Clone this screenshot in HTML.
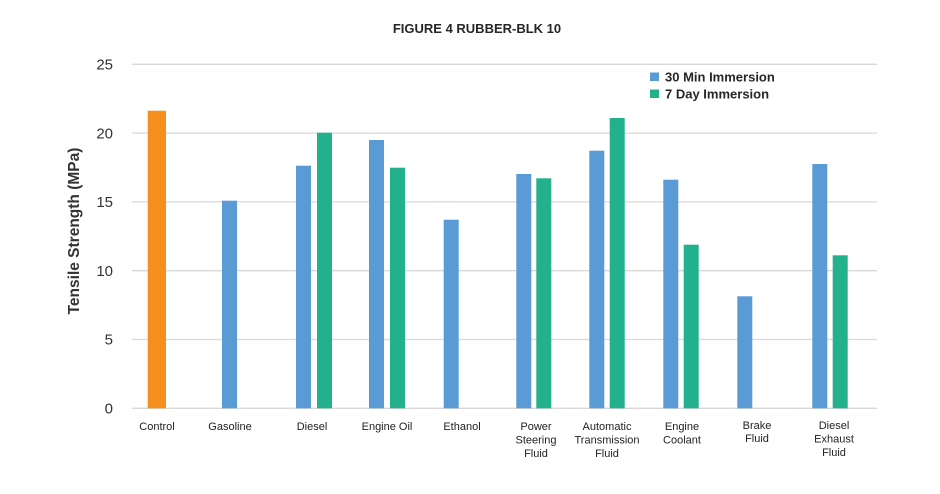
<!DOCTYPE html>
<html>
<head>
<meta charset="utf-8">
<style>
  html,body{margin:0;padding:0;background:#fff;}
  svg{display:block;}
  text{font-family:"Liberation Sans",Arial,sans-serif;}
</style>
</head>
<body>
<svg width="940" height="494" viewBox="0 0 940 494" xmlns="http://www.w3.org/2000/svg">
  <rect width="940" height="494" fill="#fff"/>
  <!-- title -->
  <text x="477" y="33" text-anchor="middle" font-size="13" font-weight="bold" fill="#262626">FIGURE 4 RUBBER-BLK 10</text>

  <!-- gridlines -->
  <g stroke="#D9D9D9" stroke-width="1.3">
    <line x1="132" y1="64.3" x2="877" y2="64.3"/>
    <line x1="132" y1="133.1" x2="877" y2="133.1"/>
    <line x1="132" y1="201.9" x2="877" y2="201.9"/>
    <line x1="132" y1="270.7" x2="877" y2="270.7"/>
    <line x1="132" y1="339.5" x2="877" y2="339.5"/>
    <line x1="132" y1="408.3" x2="877" y2="408.3"/>
  </g>

  <!-- y tick labels -->
  <g font-size="15" fill="#333" text-anchor="end">
    <text x="113" y="69.5">25</text>
    <text x="113" y="138.3">20</text>
    <text x="113" y="207.1">15</text>
    <text x="113" y="275.9">10</text>
    <text x="113" y="344.7">5</text>
    <text x="113" y="413.5">0</text>
  </g>

  <!-- y axis title -->
  <text transform="translate(79,231) rotate(-90)" text-anchor="middle" font-size="15.5" font-weight="bold" fill="#333">Tensile Strength (MPa)</text>

  <!-- bars -->
  <g>
    <rect x="147.7" y="110.7" width="18.3" height="297.6" fill="#F5901F"/>
    <!-- blue -->
    <g fill="#5B9BD5">
      <rect x="222" y="200.7" width="15" height="207.6"/>
      <rect x="296" y="165.7" width="15" height="242.6"/>
      <rect x="369" y="140" width="15" height="268.3"/>
      <rect x="443.7" y="219.7" width="15" height="188.6"/>
      <rect x="516.3" y="174" width="15" height="234.3"/>
      <rect x="589.3" y="150.7" width="15" height="257.6"/>
      <rect x="663.3" y="179.7" width="15" height="228.6"/>
      <rect x="737.3" y="296.3" width="15" height="112"/>
      <rect x="812.3" y="164" width="15" height="244.3"/>
    </g>
    <!-- green -->
    <g fill="#23B08C">
      <rect x="317" y="132.7" width="15" height="275.6"/>
      <rect x="390" y="167.7" width="15" height="240.6"/>
      <rect x="536.3" y="178.3" width="15" height="230"/>
      <rect x="609.7" y="118" width="15" height="290.3"/>
      <rect x="683.7" y="244.7" width="15" height="163.6"/>
      <rect x="832.7" y="255.3" width="15" height="153"/>
    </g>
  </g>

  <!-- category labels -->
  <g font-size="11" fill="#222" text-anchor="middle">
    <text x="157" y="430">Control</text>
    <text x="230" y="430">Gasoline</text>
    <text x="312" y="430">Diesel</text>
    <text x="387" y="430">Engine Oil</text>
    <text x="462" y="430">Ethanol</text>
    <text x="536" y="430">Power</text>
    <text x="536" y="443.5">Steering</text>
    <text x="536" y="457">Fluid</text>
    <text x="607" y="430">Automatic</text>
    <text x="607" y="443.5">Transmission</text>
    <text x="607" y="457">Fluid</text>
    <text x="682" y="430">Engine</text>
    <text x="682" y="443.5">Coolant</text>
    <text x="757" y="429">Brake</text>
    <text x="757" y="442">Fluid</text>
    <text x="834" y="429">Diesel</text>
    <text x="834" y="442.5">Exhaust</text>
    <text x="834" y="456">Fluid</text>
  </g>

  <!-- legend -->
  <rect x="650" y="72.5" width="9" height="8.5" fill="#5B9BD5"/>
  <rect x="650" y="89.5" width="9" height="8.5" fill="#23B08C"/>
  <g font-size="13" font-weight="bold" fill="#262626">
    <text x="665" y="81.5">30 Min Immersion</text>
    <text x="665" y="98.5">7 Day Immersion</text>
  </g>
</svg>
</body>
</html>
